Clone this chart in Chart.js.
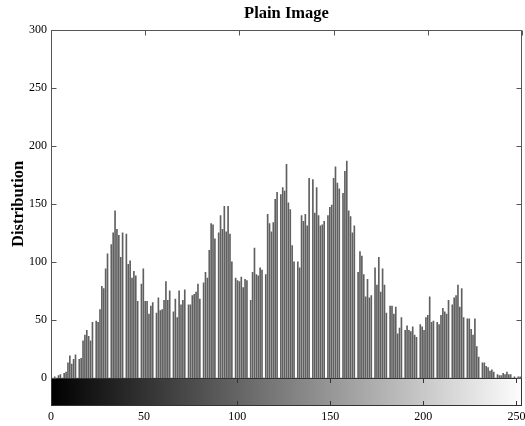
<!DOCTYPE html>
<html>
<head>
<meta charset="utf-8">
<script src="https://cdn.jsdelivr.net/npm/chart.js@4/dist/chart.umd.min.js"></script>
<style>
  body { margin: 0; background: #fff; }
</style>
</head>
<body>
<canvas id="histChart" width="525" height="426"></canvas>
<script>
// gray levels 0..255 (categories of the histogram)
const grayLevels = Array.from({length: 256}, (_, i) => i)

// pixel count per gray level
const counts = [
  0, 0, 1, 0, 2, 3, 0, 4, 5, 13,
  19, 12, 16, 20, 0, 16, 17, 32, 37, 41,
  36, 32, 48, 0, 49, 48, 59, 79, 77, 94,
  107, 0, 115, 125, 144, 128, 123, 104, 125, 0,
  124, 98, 101, 86, 92, 88, 66, 0, 81, 94,
  66, 66, 55, 62, 65, 0, 56, 69, 58, 59,
  67, 83, 67, 75, 0, 57, 68, 52, 75, 63,
  67, 76, 0, 63, 63, 71, 72, 74, 81, 68,
  0, 82, 91, 86, 110, 133, 132, 120, 0, 125,
  140, 128, 148, 126, 148, 124, 100, 0, 86, 84,
  83, 87, 78, 85, 84, 0, 67, 91, 112, 89,
  88, 95, 93, 0, 89, 141, 133, 126, 134, 154,
  160, 0, 158, 164, 161, 184, 151, 145, 114, 100,
  0, 100, 95, 140, 135, 141, 131, 172, 0, 171,
  142, 164, 140, 131, 132, 135, 0, 140, 147, 149,
  172, 182, 168, 163, 0, 159, 178, 187, 144, 139,
  125, 131, 0, 91, 109, 105, 89, 70, 85, 69,
  71, 0, 95, 80, 104, 74, 94, 80, 56, 0,
  62, 62, 55, 61, 38, 43, 52, 0, 41, 45,
  41, 40, 44, 37, 35, 0, 46, 44, 41, 52,
  54, 70, 48, 49, 0, 48, 46, 54, 60, 57,
  55, 67, 0, 63, 69, 71, 80, 61, 77, 52,
  0, 51, 51, 42, 37, 51, 27, 18, 0, 13,
  13, 10, 9, 6, 7, 5, 0, 3, 2, 2,
  4, 3, 5, 3, 3, 0, 1, 0, 1, 1,
  0, 2, 5, 0, 0, 0
]

const xTicks = [0, 50, 100, 150, 200, 250]
const yTicks = [0, 50, 100, 150, 200, 250, 300]

const serif = 'Liberation Serif'
const boxColor = '#555'
const barColor = '#606060'
const colorbarHeight = 28

// draws the axes box, inward ticks and the gray colorbar under the histogram
const matlabAxes = {
    id: 'matlabAxes',
    afterDraw(chart){
        const ctx = chart.ctx
        const area = chart.chartArea
        const x = chart.scales.x
        const y = chart.scales.y
        const xc = chart.scales.xc

        ctx.save()
        // colorbar
        const cbTop = area.bottom
        const cbBottom = area.bottom + colorbarHeight
        const grad = ctx.createLinearGradient(xc.getPixelForValue(0), 0, xc.getPixelForValue(255), 0)
        grad.addColorStop(0, '#000')
        grad.addColorStop(1, '#fff')
        ctx.fillStyle = grad
        ctx.fillRect(area.left, cbTop, area.right - area.left, colorbarHeight)

        ctx.strokeStyle = '#333'
        ctx.lineWidth = 1
        ctx.beginPath()
        xTicks.forEach(v => {
            const px = Math.round(xc.getPixelForValue(v)) + 0.5
            ctx.moveTo(px, cbTop)
            ctx.lineTo(px, cbTop + 5)
            ctx.moveTo(px, cbBottom)
            ctx.lineTo(px, cbBottom - 5)
        })
        ctx.stroke()
        ctx.strokeRect(Math.round(area.left) + 0.5, cbTop + 0.5, Math.round(area.right - area.left) - 1, colorbarHeight - 1)

        // histogram box with inward ticks
        ctx.strokeStyle = boxColor
        ctx.beginPath()
        const l = Math.round(area.left) + 0.5
        const r = Math.round(area.right) - 0.5
        const t = Math.round(area.top) + 0.5
        const b = Math.round(area.bottom)
        ctx.moveTo(l, b)
        ctx.lineTo(l, t)
        ctx.lineTo(r, t)
        ctx.lineTo(r, b)
        yTicks.forEach(v => {
            const py = Math.round(y.getPixelForValue(v)) + 0.5
            ctx.moveTo(l, py)
            ctx.lineTo(l + 5, py)
            ctx.moveTo(r, py)
            ctx.lineTo(r - 5, py)
        })
        xTicks.forEach(v => {
            const px = Math.round(x.getPixelForValue(v)) + 0.5
            ctx.moveTo(px, t)
            ctx.lineTo(px, t + 5)
        })
        ctx.stroke()
        ctx.restore()
    }
}

const data = {
    labels: grayLevels,
    datasets: [{
        label: 'Distribution',
        backgroundColor: barColor,
        borderWidth: 0,
        barThickness: 1,
        data: counts,
    }]
}

const config = {
    type: 'bar',
    data: data,
    options: {
        responsive: false,
        animation: false,
        layout: {
            padding: {left: 1, right: 3, top: 0, bottom: 0}
        },
        scales: {
            x: {
                type: 'linear',
                display: false,
                min: 0,
                max: 250,
                offset: false,
                grid: {offset: false}
            },
            xc: {
                type: 'linear',
                position: 'bottom',
                min: 0,
                max: 253,
                offset: false,
                afterBuildTicks: scale => {
                    scale.ticks = xTicks.map(v => ({value: v}))
                },
                afterFit: scale => {
                    scale.height = 48
                    scale.paddingLeft = 0
                    scale.paddingRight = 0
                },
                grid: {
                    display: true,
                    drawOnChartArea: false,
                    drawTicks: true,
                    tickLength: 30,
                    color: 'rgba(0,0,0,0)',
                    offset: false
                },
                border: {display: false},
                ticks: {
                    padding: 2,
                    maxRotation: 0,
                    autoSkip: false,
                    color: '#000',
                    font: {family: serif, size: 12}
                }
            },
            y: {
                min: 0,
                max: 300,
                afterBuildTicks: scale => {
                    scale.ticks = yTicks.map(v => ({value: v}))
                },
                afterFit: scale => {
                    scale.width = 50
                },
                grid: {display: false, drawTicks: false},
                border: {display: false},
                ticks: {
                    padding: 4,
                    color: '#000',
                    font: {family: serif, size: 12}
                },
                title: {
                    display: true,
                    text: 'Distribution',
                    color: '#000',
                    padding: {top: 8, bottom: 1},
                    font: {family: serif, size: 16.5, weight: 'bold'}
                }
            }
        },
        plugins: {
            legend: {display: false},
            tooltip: {enabled: false},
            title: {
                display: true,
                text: 'Plain Image',
                color: '#000',
                fullSize: false,
                padding: {top: 4, bottom: 6},
                font: {family: serif, size: 16.5, weight: 'bold'}
            }
        }
    },
    plugins: [matlabAxes]
}

const myChart = new Chart(
    document.getElementById('histChart'),
    config
)
</script>
</body>
</html>
